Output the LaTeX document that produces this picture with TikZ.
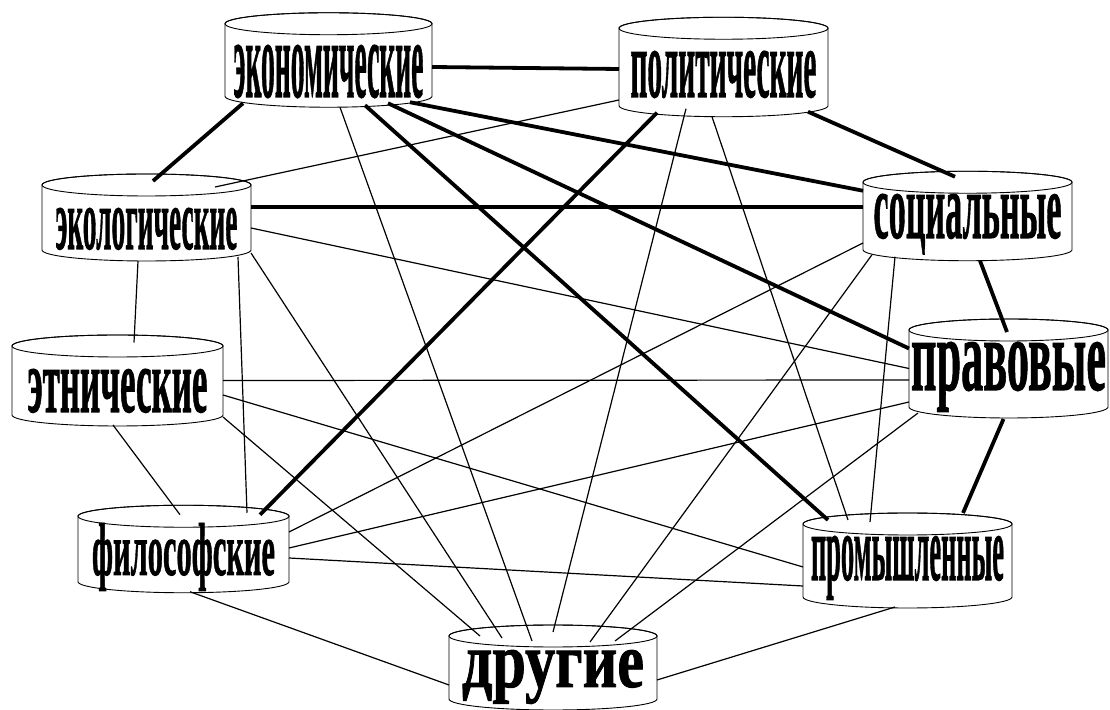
\documentclass[tikz,border=0pt]{standalone}
\usepackage{fontspec}
\setmainfont{Liberation Serif}[BoldFeatures={FakeBold=1.2}]
\usepackage{graphicx}
\usetikzlibrary{backgrounds}

\newcommand{\canlabel}[4]{\raisebox{#1}{\resizebox{#2}{#3}{\bfseries #4}}}

\begin{document}
\begin{tikzpicture}[x=1pt, y=1pt,
    can/.style={minimum width=209pt, inner sep=0pt, outer sep=0pt, text height=0pt, text depth=0pt},
    rim/.style={draw=black, fill=white, line width=0.9pt},
    weak/.style={line width=1.2pt},
    strong/.style={line width=3.8pt}]
  \useasboundingbox (0,0) rectangle (1110,709);

  \node[can, minimum width=207pt, minimum height=72.5pt] (eko)  at (328.5,649)  {\canlabel{-37pt}{190pt}{52pt}{экономические}};
  \node[can, minimum height=77.5pt]                      (pol)  at (723.5,642)  {\canlabel{-30pt}{186pt}{46pt}{политические}};
  \node[can, minimum height=65pt]                        (ekol) at (146.5,491.5) {\canlabel{-31.5pt}{182pt}{41pt}{экологические}};
  \node[can, minimum width=211pt, minimum height=69pt]   (etn)  at (117.5,328.5) {\canlabel{-31.5pt}{180pt}{43pt}{этнические}};
  \node[can, minimum height=67.5pt]                      (soc)  at (967.5,493)  {\canlabel{-22pt}{188pt}{44pt}{социальные}};
  \node[can, minimum width=199pt, minimum height=77pt]   (prav) at (1008.5,340.5) {\canlabel{-21.5pt}{195pt}{48pt}{правовые}};
  \node[can, minimum width=211pt, minimum height=65.5pt] (fil)  at (183.5,160)  {\canlabel{-26pt}{183pt}{52pt}{философские}};
  \node[can, minimum height=73pt]                        (prom) at (907.5,148.5) {\canlabel{-19.5pt}{193pt}{44pt}{промышленные}};
  \node[can, minimum width=208pt, minimum height=63pt]   (dr)   at (553,41.5)   {\canlabel{-19.5pt}{182pt}{37pt}{другие}};

  % cans behind the labels
  \begin{scope}[on background layer]
    \foreach \n/\w in {eko/207, pol/209, ekol/209, etn/211, soc/209, prav/199, fil/211, prom/209, dr/208} {
      \path[rim] (\n.north west) -- (\n.south west)
        arc[start angle=180, end angle=360, x radius=\w/2, y radius=11]
        -- (\n.north east)
        arc[start angle=0, end angle=180, x radius=\w/2, y radius=11] -- cycle;
      \draw[line width=0.9pt] (\n.north) ellipse[x radius=\w/2, y radius=11];
    }
  \end{scope}

  % strong links
  \path[strong]
    ([yshift=-7]eko.east) edge ([yshift=-2]pol.west)
    ([xshift=-85.5,yshift=-7]eko.south) edge ([xshift=6.5,yshift=4]ekol.north)
    ([xshift=81.5,yshift=-6]eko.south) edge ([yshift=-8.5]soc.north west)
    ([xshift=59.5,yshift=-7]eko.south) edge ([yshift=20]prav.west)
    ([xshift=36.5,yshift=-9]eko.south) edge ([xshift=-79.5,yshift=4]prom.north)
    ([xshift=-66.5,yshift=-7]pol.south) edge ([xshift=76.5,yshift=1.5]fil.north)
    ([xshift=84.5,yshift=-6]pol.south) edge ([xshift=-12.5,yshift=5.5]soc.north)
    ([yshift=10.5]ekol.east) edge ([yshift=9]soc.west)
    ([xshift=12.5,yshift=-11]soc.south) edge ([xshift=-1.5,yshift=-2]prav.north)
    ([xshift=-5,yshift=-12]prav.south) edge ([xshift=55.5,yshift=11]prom.north);

  % weak links
  \path[weak]
    ([yshift=-33]pol.west) edge ([xshift=68.5,yshift=-2]ekol.north)
    ([xshift=11.5,yshift=-11]eko.south) edge ([xshift=-21,yshift=-5]dr.north)
    ([xshift=-37.5,yshift=-3]pol.south) edge ([yshift=4]dr.north)
    ([xshift=-11.5,yshift=-11]pol.south) edge ([xshift=-59.5,yshift=4]prom.north)
    ([xshift=-8.5,yshift=-11]ekol.south) edge ([xshift=16.5,yshift=3.5]etn.north)
    ([xshift=91.5,yshift=-7]ekol.south) edge ([xshift=63.5,yshift=3.5]fil.north)
    ([yshift=-10.5]ekol.east) edge (prav.west)
    ([yshift=-3]ekol.south east) edge ([xshift=-51,yshift=-2]dr.north)
    (etn.east) edge ([yshift=-11.5]prav.west)
    ([yshift=-14.5]etn.east) edge ([yshift=-6.5]prom.west)
    ([yshift=-2]etn.south east) edge ([xshift=-73]dr.north)
    ([xshift=-4.5,yshift=-10]etn.south) edge ([xshift=-3.5,yshift=1.5]fil.north)
    ([yshift=-27]soc.west) edge ([yshift=17]fil.east)
    ([xshift=-95.5,yshift=-5]soc.south) edge ([xshift=37,yshift=-6]dr.north)
    ([xshift=-72.5,yshift=-7]soc.south) edge ([xshift=-37.5,yshift=2]prom.north)
    ([yshift=5]prav.south west) edge ([yshift=1]fil.east)
    ([xshift=-90.5,yshift=-6]prav.south) edge ([xshift=62,yshift=-5]dr.north)
    ([yshift=-25.5]prom.west) edge ([yshift=-9]fil.east)
    ([xshift=-12.5,yshift=-10]prom.south) edge ([yshift=-12.5]dr.east)
    ([xshift=6.5,yshift=-10]fil.south) edge ([yshift=-17.5]dr.west);
\end{tikzpicture}
\end{document}
